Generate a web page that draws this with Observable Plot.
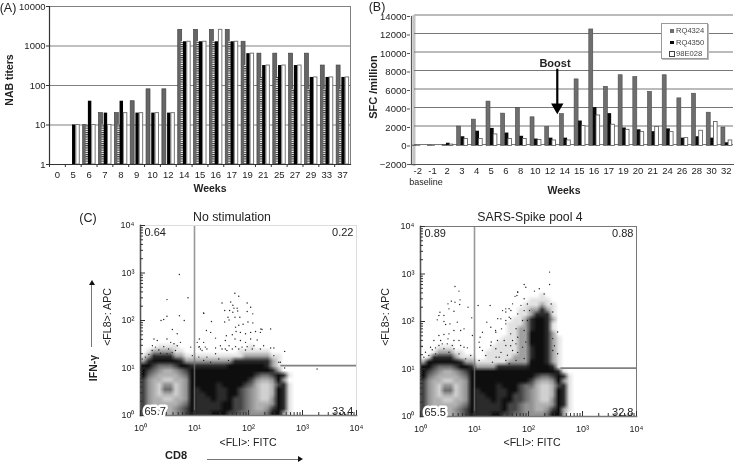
<!DOCTYPE html>
<html><head><meta charset="utf-8">
<script src="https://cdn.jsdelivr.net/npm/d3@7"></script>
<script src="https://cdn.jsdelivr.net/npm/@observablehq/plot@0.6"></script>
<style>
html,body{margin:0;padding:0;background:#fff}
#page{position:relative;width:734px;height:462px;overflow:hidden;font-family:"Liberation Sans",Arial,sans-serif;color:#222;filter:blur(0.3px)}
#page svg{position:absolute;background:transparent}
.t{position:absolute;white-space:nowrap;transform:translate(-50%,-50%);line-height:1}
.b{font-weight:bold}
.rot{transform:translate(-50%,-50%) rotate(-90deg)}
.legend{position:absolute;left:661px;top:23px;width:45px;height:34px;border:1px solid #999;box-shadow:1px 1px 0 #bbb;background:#fff;font-size:7.6px;color:#444}
.legend div{position:absolute;left:14px;line-height:1}
.legend i{position:absolute;left:-6px;top:2px;width:3.5px;height:3.5px}
.ln{position:absolute;background:#777}
.hd{position:absolute;width:0;height:0}
</style></head><body><div id="page"></div>
<script>
// ---------- Panel A: NAB titers ----------
const weeksA = ["0","5","6","7","8","9","10","12","14","15","16","17","19","21","25","27","29","33","37"];
const grayA    = [null,null,10,20,20,40,80,80,2560,2560,2560,2560,1280,640,640,640,640,320,320];
const stripedA = [null,null,10,10,10,null,null,null,1280,1280,1280,1280,320,160,160,80,80,80,80];
const blackA   = [null,10,40,20,40,20,20,20,1280,1280,1280,1280,640,320,320,320,160,160,160];
const whiteA   = [null,10,10,10,20,20,20,20,1280,1280,2560,1280,640,320,320,320,160,160,160];
const ticksA = [1,10,100,1000,10000];
const gridA = [10,100,1000,10000];

// ---------- Panel B: SFC / million ----------
const weeksB = ["-2","-1","2","3","4","5","6","8","10","12","14","15","16","17","19","20","21","24","26","28","30","32"];
const rq4324 = [50,50,100,2100,2850,4800,3500,4100,3100,2050,3450,7200,12600,6400,7650,7450,5850,7650,5150,5650,3600,2000];
const rq4350 = [50,50,300,1000,1600,1900,1400,1050,750,850,850,2700,4150,3500,1950,1750,1550,1850,850,1000,850,350];
const e98028 = [0,0,150,750,750,1250,750,750,650,600,600,2150,3300,2300,1750,1500,2050,1500,850,1650,2600,600];
const ticksB = [-2000,0,2000,4000,6000,8000,10000,12000,14000];
const seriesNames = ["RQ4324","RQ4350","98E028"];

// ---------- Panel C: flow cytometry, density levels on a log10 grid (0.1 decade per cell) ----------
// segments: columns 0-9, 10-13, 14-27 (the rest of each row is empty)
const densityLeft = [ // rows from log10(y)=1.6 down to 0
"0000000000 0000 00000000000000",
"0001111000 0000 00000010000000",
"0122221100 0000 00001111110000",
"1233332211 1111 11111222221100",
"2344444322 2222 22233333332100",
"4456665443 3333 33444444432100",
"4567887654 4444 44444444443200",
"4678888764 4444 44444445665431",
"5788998874 4444 44444457887420",
"5789779874 4444 34444568998531",
"5789669874 3444 33445678998431",
"5789889874 3344 33445678998431",
"5788998874 3334 33455678997431",
"5788888764 3333 34455678887431",
"5678887654 3333 34455678875431",
"5678887654 3334 44556677764421"
];
const densityRight = [ // rows from log10(y)=2.7 down to 0
"0000000000 0000 00000000000000",
"0000000000 0000 00000000100000",
"0000000000 0000 00000011110000",
"0000000000 0000 00000111211000",
"0000000000 0000 00001122321000",
"0000000000 0000 00001123331000",
"0000000000 0000 00011234432000",
"0000000000 0000 00111234431000",
"0000000000 0000 00112234431000",
"0000000000 0000 00112244432000",
"0000000000 0000 01112244432100",
"0000000000 0000 11112244432100",
"0001110000 0001 11112234432100",
"0012221100 0011 11112234432100",
"0133332111 0011 11122234432100",
"2444444322 1111 11222244432100",
"4456665443 2222 33333344443100",
"4567887654 4444 44444444444310",
"4678888764 4444 44444445665431",
"5788998874 4444 44444457887421",
"5789779874 4444 34445668998531",
"5789669874 3444 33445678998431",
"5789889874 3344 33455678998431",
"5788998874 3334 34455678997431",
"5788888764 3333 34556778887431",
"5678887654 3333 34556778875421",
"5678887654 3334 45566777764420"
];
const levelGrays = ["#ffffff","#e2e2e2","#a0a0a0","#2b2b2b","#0e0e0e","#444444","#6e6e6e","#929292","#b0b0b0","#d0d0d0"];
const levels = [0,1,2,3,4,5,6,7,8,9];
// sparse events as [log10 x, log10 y]
const eventsLeft = [[1.747,2.575],[1.82,2.51],[1.51,2.37],[1.67,2.39],[1.975,2.37],[1.71,2.32],[1.79,2.26],[1.73,2.26],[1.56,2.21],[1.65,2.21],[1.8,2.2],[1.71,2.175],[1.975,2.19],[2.08,2.14],[1.17,2.16],[2.04,2.28],[1.62,2.07],[1.75,2.07],[1.84,2.07],[1.56,1.97],[1.64,2.01],[1.315,1.98],[1.99,1.97],[2.08,1.95],[1.82,1.9],[1.76,1.86],[1.9,1.92],[1.22,1.79],[1.3,1.75],[1.59,1.68],[1.7,1.7],[1.77,1.77],[1.85,1.75],[1.945,1.72],[2.04,1.75],[2.13,1.77],[2.23,1.82],[1.39,1.63],[1.57,1.58],[1.75,1.61],[1.85,1.58],[1.945,1.54],[2.04,1.61],[2.16,1.59],[1.09,1.61],[1.17,1.54],[1.48,1.47],[1.64,1.47],[1.76,1.45],[1.88,1.44],[1.975,1.45],[2.1,1.47],[2.28,1.47],[2.41,1.42],[2.47,1.42],[1.09,1.45],[1.2,1.44],[1.39,1.42],[1.57,1.4],[1.7,1.4],[1.82,1.4],[1.945,1.38],[2.07,1.4],[2.22,1.4],[0.72,2.97],[0.49,2.44],[0.88,2.48],[0.38,2],[0.43,2.02],[0.49,2.09],[0.72,2.1],[0.81,2],[1.17,2.15],[2.67,1],[3.27,0.98],[0.59,1.81],[0.68,1.72],[0.25,1.61],[0.31,1.58],[0.49,1.61],[0.22,1.47],[0.56,1.54],[0.74,1.54],[1.05,1.54],[0.93,1.44],[1.11,1.4],[1.23,1.4],[2.67,1.35],[2.56,1.12],[2.47,1.26],[2.22,1.75],[2.41,1.82],[2.25,1.81],[2.59,1.12],[0.277,1.44],[0.34,1.38],[0.43,1.45],[0.52,1.4],[0.62,1.51],[0.68,1.47],[0.216,1.37],[0.154,1.285],[0.37,1.31],[0.49,1.3],[0.586,1.33],[0.648,1.37],[0.09,1.23],[0.246,1.26],[0.03,1.19],[1.14,1.37],[1.08,1.44],[1.23,1.23],[1.39,1.3],[1.51,1.4],[1.6,1.37],[1.63,1.16],[1.45,1.19],[1.3,1.12],[1.17,1.16],[1.08,1.23],[0.96,1.26]];
const eventsRight = [[0.639,2.737],[0.713,2.64],[0.732,2.456],[0.571,2.428],[0.639,2.407],[0.509,2.372],[0.726,2.358],[0.881,2.302],[1.067,2.337],[1.29,2.337],[0.527,2.266],[0.62,2.217],[0.36,2.196],[0.341,2.126],[0.434,2.126],[0.949,2.077],[0.31,2.035],[0.434,2],[0.465,1.937],[0.546,1.951],[0.682,1.986],[1.228,1.986],[0.806,1.845],[0.744,1.81],[0.62,1.81],[0.527,1.74],[0.434,1.726],[0.341,1.705],[1.302,1.88],[0.961,1.705],[1.147,1.775],[1.104,1.67],[1.395,1.775],[1.5,1.845],[1.58,2.266],[1.674,2.231],[1.705,2.372],[1.8,2.617],[1.786,2.547],[1.643,2.091],[1.58,1.951],[1.488,2.056],[0.248,1.6],[0.372,1.6],[0.509,1.635],[0.62,1.6],[0.186,1.459],[0.279,1.445],[0.403,1.53],[0.496,1.53],[0.589,1.495],[0.713,1.6],[0.744,1.495],[0.031,1.474],[1.085,1.565],[1.098,1.459],[0.868,1.445],[1.426,1.6],[1.302,1.495],[1.58,1.495],[1.705,1.6],[1.767,1.53],[2.39,3.04],[1.92,2.78],[1.95,2.72],[1.8,2.62],[1.75,2.53],[2.2,2.69],[2.11,2.64],[2.39,2.78],[2.29,2.58],[1.92,2.48],[1.86,2.34],[1.64,2.27],[1.58,2.2],[1.67,2.06],[1.8,2.16],[1.92,2.23],[1.98,2.37],[1.89,2.02],[1.77,1.85],[1.67,1.74],[1.55,1.6],[1.8,1.67],[1.92,1.81],[1.98,2.02],[2.02,2.23],[2.42,2.37],[2.45,2.2],[2.54,1.78],[2.45,1.64],[2.48,1.49],[2.54,1.32],[2.45,1.39],[1.67,1.49],[1.49,1.35],[1.8,1.35],[1.89,1.46],[1.95,1.57],[1.4,1.25],[1.61,1.29],[1.77,1.18],[1.92,1.22],[1.39,1.81],[1.31,1.57],[1.58,2.02],[1.52,2.23],[1.43,2.06],[0.093,1.354],[0.217,1.404],[0.341,1.495],[0.434,1.425],[0.527,1.354],[0.62,1.425],[0.713,1.319],[0.806,1.46],[0.279,1.319],[0.155,1.284],[0.062,1.249],[0.837,1.214],[0.93,1.284],[1.085,1.179],[1.209,1.284],[1.333,1.144],[1.457,1.249],[1.581,1.179],[1.705,1.389],[1.643,1.109],[1.147,1.389],[1.395,1.425]];
const flowMajor = [0,1,2,3,4]; // log10 decades
const flowMinor = [2,3,4,5,6,7,8,9,20,30,40,50,60,70,80,90,200,300,400,500,600,700,800,900,2000,3000,4000,5000,6000,7000,8000,9000].map(Math.log10);
const superTicks = ["10⁰","10¹","10²","10³","10⁴"];

const page = document.getElementById("page");
function place(svg,l,t){svg.style.left=l+"px";svg.style.top=t+"px";page.appendChild(svg);}
function label(text,x,y,size,cls=""){const d=document.createElement("div");d.className="t "+cls;d.textContent=text;d.style.left=x+"px";d.style.top=y+"px";d.style.fontSize=size+"px";page.appendChild(d);return d;}
function rows(names,vals){return names.map((w,i)=>({week:w,v:vals[i]})).filter(d=>d.v!=null);}

// Panel A
const stripesDef = () => {
  const defs = d3.create("svg:defs");
  const p = defs.append("pattern").attr("id","stripes").attr("width",2).attr("height",2.2).attr("patternUnits","userSpaceOnUse");
  p.append("rect").attr("width",2).attr("height",2.2).attr("fill","#fff");
  p.append("rect").attr("width",2).attr("height",1.1).attr("fill","#333");
  return defs.node();
};
const barA = (vals,o)=>Plot.barY(rows(weeksA,vals),{x:"week",y1:()=>1,y2:"v",...o});
place(Plot.plot({
  width:360,height:200,marginLeft:49,marginRight:10,marginTop:6,marginBottom:36,
  style:{fontFamily:"Liberation Sans",fontSize:"9.5px",color:"#222",background:"transparent"},
  x:{type:"band",domain:weeksA,padding:0,round:false},
  y:{type:"log",domain:[1,10000]},
  marks:[
    stripesDef,
    Plot.ruleY(gridA,{stroke:"#808080",strokeWidth:1}),
    Plot.frame({anchor:"right",stroke:"#808080"}),
    barA(grayA,{fill:"#666",stroke:"#444",strokeWidth:0.7,insetLeft:2,insetRight:9.9}),
    barA(stripedA,{fill:"url(#stripes)",insetLeft:5,insetRight:8.4}),
    barA(blackA,{fill:"#000",insetLeft:7.2,insetRight:5.2}),
    barA(whiteA,{fill:"#fff",stroke:"#777",strokeWidth:1,insetLeft:11,insetRight:1.4}),
    Plot.frame({anchor:"left",stroke:"#333",strokeWidth:1.2}),
    Plot.frame({anchor:"bottom",stroke:"#333",strokeWidth:1.2}),
    Plot.axisY({ticks:ticksA,tickSize:3,tickPadding:1,tickFormat:d3.format("d"),label:null,stroke:"#333"}),
    Plot.axisX({tickSize:3,tickFormat:()=>"",dx:-7.92,label:null,stroke:"#333"}),
    Plot.axisX({tickSize:0,tickPadding:7,label:null})
  ]
}),0,0);
label("(A)",8,8,12.5);
label("NAB titers",9,80,10.5,"b rot");
label("Weeks",210,188,10.5,"b");

// Panel B
const barB = (vals,o)=>Plot.barY(rows(weeksB,vals),{x:"week",y1:()=>0,y2:"v",...o});
place(Plot.plot({
  width:374,height:200,marginLeft:50,marginRight:1,marginTop:16,marginBottom:36,
  style:{fontFamily:"Liberation Sans",fontSize:"9.5px",color:"#222",background:"transparent"},
  x:{type:"band",domain:weeksB,padding:0,round:false},
  y:{domain:[-2000,14000]},
  marks:[
    Plot.frame({anchor:"left",dx:3.5,stroke:"#c4c4c4",strokeWidth:3}),
    Plot.ruleY(ticksB.filter(d=>d>-2000&&d<14000),{stroke:"#777",dy:-1.5,insetLeft:4}),
    Plot.ruleY([14000],{stroke:"#bbb",strokeWidth:2,dy:-1.5,insetLeft:4}),
    barB(rq4324,{fill:"#6e6e6e",stroke:"#4a4a4a",strokeWidth:0.6,insetLeft:2.6,insetRight:8.1}),
    barB(rq4350,{fill:"#0a0a0a",insetLeft:6.6,insetRight:4.4}),
    barB(e98028,{fill:"#fff",stroke:"#555",strokeWidth:0.8,insetLeft:9.8,insetRight:1.2}),
    Plot.frame({anchor:"left",dx:1,stroke:"#555",strokeWidth:1.2}),
    Plot.frame({anchor:"bottom",stroke:"#555",strokeWidth:1.2}),
    Plot.axisY({ticks:ticksB,tickSize:3,tickPadding:1,tickFormat:d3.format("d"),label:null,stroke:"#555"}),
    Plot.axisX({tickSize:0,tickPadding:3,label:null}),
    Plot.ruleX(["12"],{x:d=>d,y1:()=>8300,y2:()=>4400,dx:7.3,stroke:"#000",strokeWidth:2.2}),
    Plot.dot(["12"],{x:d=>d,y:()=>4200,dx:7.3,symbol:"triangle",rotate:180,r:4.6,fill:"#000"})
  ]
}),360,0);
label("(B)",377,7,12.5);
label("SFC /million",373,87,11,"b rot");
label("Weeks",564,190,10.5,"b");
label("baseline",426,182,9);
label("Boost",555,63,11,"b");
const lg=document.createElement("div");lg.className="legend";
const swatches=["#6e6e6e","#0a0a0a","#fff"];
seriesNames.forEach((n,i)=>{const r=document.createElement("div");r.style.top=(3+i*11.5)+"px";r.textContent=n;
  const s=document.createElement("i");s.style.background=swatches[i];if(i==2)s.style.outline="0.5px solid #444";r.appendChild(s);lg.appendChild(r);});
page.appendChild(lg);

// Panel C
function flow({left,top,ml,mr,mt,mb,density,events,topLog,hGate,labels,frameColor}){
  const n=density.length;
  const cells=density.map(r=>r.replace(/ /g,"").padEnd(32,"0").slice(0,32)).join("").split("").map(Number);
  return place(Plot.plot({
    width:ml+216+mr,height:mt+190+mb,marginLeft:ml,marginRight:mr,marginTop:mt,marginBottom:mb,
    style:{fontFamily:"Liberation Sans",fontSize:"9px",color:"#222",background:"transparent"},
    x:{type:"linear",domain:[0,4]},
    y:{type:"linear",domain:[0,4]},
    color:{type:"ordinal",domain:levels,range:levelGrays},
    marks:[
      Plot.raster(cells,{width:32,height:n,x1:0,x2:3.2,y1:topLog,y2:0,fill:d=>d,imageRendering:"auto"}),
      Plot.dot(events,{x:d=>d[0],y:d=>d[1],r:0.7,fill:"#222"}),
      Plot.ruleY([hGate],{x1:()=>2.6,x2:()=>4,stroke:"#808080",strokeWidth:1.8}),
      Plot.ruleX([1],{stroke:"#777",strokeWidth:1.6,strokeOpacity:0.75}),
      Plot.frame({stroke:frameColor,strokeWidth:1}),
      Plot.frame({anchor:"left",stroke:"#555",strokeWidth:1.6}),
      Plot.frame({anchor:"bottom",stroke:"#777",strokeWidth:1.6}),
      Plot.tickX(flowMinor,{x:d=>d,insetTop:187,stroke:"#333"}),
      Plot.tickX(flowMajor,{x:d=>d,insetTop:185,stroke:"#333"}),
      Plot.tickY(flowMinor,{y:d=>d,insetRight:213,stroke:"#333"}),
      Plot.tickY(flowMajor,{y:d=>d,insetRight:211,stroke:"#333"}),
      Plot.axisX({ticks:flowMajor,tickSize:0,tickPadding:9,tickFormat:d=>superTicks[d],label:null}),
      Plot.axisY({ticks:flowMajor,tickSize:0,tickPadding:6,tickFormat:d=>superTicks[d],label:null}),
      Plot.text([labels[0]],{text:d=>d,frameAnchor:"top-left",dx:4,dy:3,fontSize:11,fill:"#222"}),
      Plot.text([labels[1]],{text:d=>d,frameAnchor:"top-right",dx:-3,dy:3,fontSize:11,fill:"#222"}),
      Plot.text([labels[2]],{text:d=>d,frameAnchor:"bottom-left",dx:4,dy:-1,fontSize:11,fill:"#222",stroke:"#fff",strokeWidth:5,paintOrder:"stroke",lineAnchor:"bottom"}),
      Plot.text([labels[3]],{text:d=>d,frameAnchor:"bottom-right",dx:-3,dy:-1,fontSize:11,fill:"#222",lineAnchor:"bottom"})
    ]
  }),left,top);
}
flow({left:60,top:205,ml:80,mr:12,mt:20,mb:47,density:densityLeft,events:eventsLeft,topLog:1.6,hGate:1.05,labels:["0.64","0.22","65.7","33.4"],frameColor:"#ddd"});
flow({left:360,top:205,ml:60,mr:25,mt:21,mb:46,density:densityRight,events:eventsRight,topLog:2.7,hGate:1.02,labels:["0.89","0.88","65.5","32.8"],frameColor:"#777"});
label("(C)",88,218,12.5);
label("No stimulation",232,217,12.3);
label("SARS-Spike pool 4",530,217,12.3);
label("<FLI>: FITC",248,442,10.6);
label("<FLI>: FITC",532,442,10.6);
label("<FL8>: APC",107,317,10.6,"rot");
label("<FL8>: APC",385,317,10.6,"rot");
label("IFN-γ",93,368,10.5,"b rot");
label("CD8",176,455,11,"b");
// axis direction arrows
function ln(l,t,w,h){const d=document.createElement("div");d.className="ln";d.style.cssText+=`left:${l}px;top:${t}px;width:${w}px;height:${h}px`;page.appendChild(d);}
function hd(l,t,css){const d=document.createElement("div");d.className="hd";d.style.cssText+=`left:${l}px;top:${t}px;`+css;page.appendChild(d);}
ln(90.5,284,1,63);hd(88.5,280,"border-left:3px solid transparent;border-right:3px solid transparent;border-bottom:5px solid #111");
ln(207,458.5,92,1);hd(298,456,"border-top:3px solid transparent;border-bottom:3px solid transparent;border-left:5px solid #111");
</script></body></html>
